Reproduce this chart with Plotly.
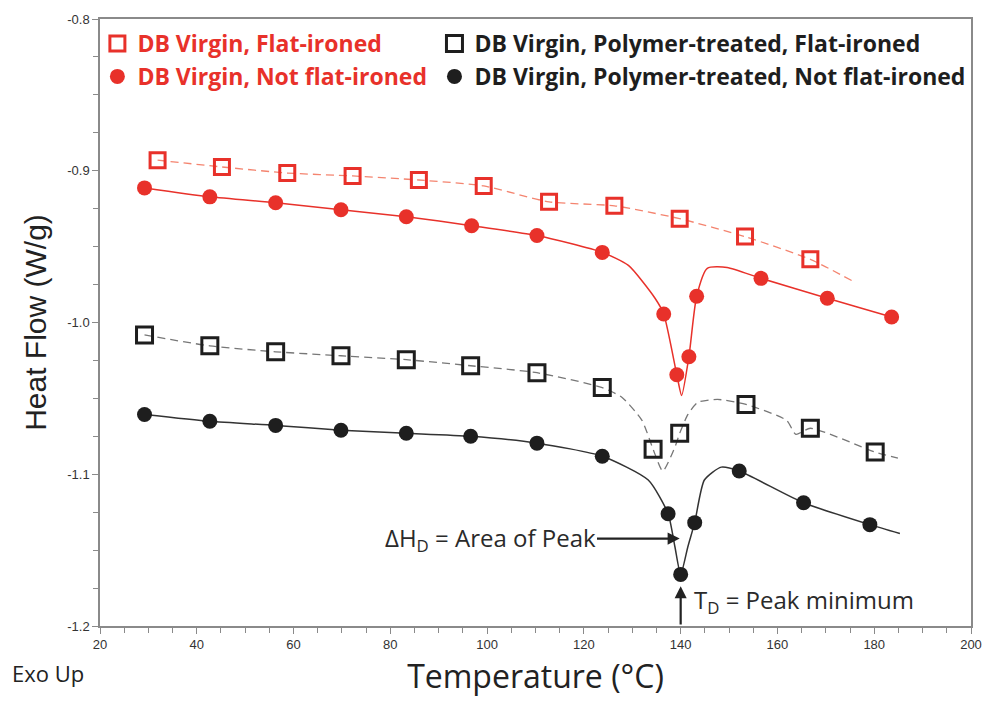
import plotly.graph_objects as go

# ---------------- data ----------------
# DB Virgin, Flat-ironed (red open squares, dashed line)
red_sq_T = [31.9, 45.2, 58.7, 72.2, 85.9, 99.3, 112.8, 126.3, 139.8, 153.3, 166.8]
red_sq_HF = [-0.8930, -0.8975, -0.9015, -0.9034, -0.9061, -0.9100, -0.9205, -0.9231, -0.9316, -0.9434, -0.9584]
red_sq_extra_T = [175.6]
red_sq_extra_HF = [-0.9728]

# DB Virgin, Not flat-ironed (red filled circles, solid line)
red_ci_T = [29.2, 42.7, 56.3, 69.8, 83.3, 96.8, 110.3, 123.8, 136.5, 139.2, 141.7, 143.3, 156.6, 170.3, 183.6]
red_ci_HF = [-0.9113, -0.9172, -0.9211, -0.9257, -0.9303, -0.9362, -0.9427, -0.9538, -0.9944, -1.0344,
             -1.0226, -0.9827, -0.9709, -0.9840, -0.9964]
red_ci_extra_T = [129.2, 134.7, 140.2, 145.5, 149.6, 184.9]
red_ci_extra_HF = [-0.9624, -0.9840, -1.0481, -0.9643, -0.9637, -0.9977]

# DB Virgin, Polymer-treated, Flat-ironed (black open squares, dashed line)
bk_sq_T = [29.2, 42.7, 56.3, 69.8, 83.3, 96.6, 110.3, 123.8, 134.3, 139.8, 153.5, 166.8, 180.2]
bk_sq_HF = [-1.0082, -1.0154, -1.0193, -1.0219, -1.0245, -1.0285, -1.0331, -1.0429, -1.0835, -1.0730,
            -1.0540, -1.0697, -1.0854]
bk_sq_extra_T = [127.9, 132.0, 136.3, 138.8, 141.5, 143.5, 147.6, 161.9, 163.8, 184.9]
bk_sq_extra_HF = [-1.0494, -1.0645, -1.0979, -1.0822, -1.0606, -1.0527, -1.0507, -1.0645, -1.0737, -1.0894]

# DB Virgin, Polymer-treated, Not flat-ironed (black filled circles, solid line)
bk_ci_T = [29.2, 42.7, 56.3, 69.8, 83.3, 96.6, 110.3, 123.8, 137.4, 140.0, 142.9, 152.1, 165.4, 179.1]
bk_ci_HF = [-1.0606, -1.0651, -1.0678, -1.0710, -1.0730, -1.0750, -1.0795, -1.0881, -1.1260, -1.1660,
            -1.1319, -1.0979, -1.1188, -1.1332]
bk_ci_extra_T = [133.3, 138.8, 141.5, 144.9, 148.4, 185.3]
bk_ci_extra_HF = [-1.1038, -1.1476, -1.1476, -1.1038, -1.0953, -1.1391]

x_tick_vals = [20, 40, 60, 80, 100, 120, 140, 160, 180, 200]
x_tick_labels = ["20", "40", "60", "80", "100", "120", "140", "160", "180", "200"]
y_tick_vals = [-0.8, -0.9, -1.0, -1.1, -1.2]
y_tick_labels = ["-0.8", "-0.9", "-1.0", "-1.1", "-1.2"]

names = ["DB Virgin, Flat-ironed", "DB Virgin, Not flat-ironed",
         "DB Virgin, Polymer-treated, Flat-ironed", "DB Virgin, Polymer-treated, Not flat-ironed"]

RED = "#e8312a"
RED_LIGHT = "#f4846f"
BLACK = "#1e1e1e"
SANS = "Open Sans, Noto Sans, Lato"


def merged(t1, h1, t2, h2):
    pts = sorted(zip(list(t1) + list(t2), list(h1) + list(h2)))
    return [p[0] for p in pts], [p[1] for p in pts]


fig = go.Figure()

# ---- curves (lines) ----
line_specs = [
    (red_sq_T, red_sq_HF, red_sq_extra_T, red_sq_extra_HF, dict(color=RED_LIGHT, width=1.3, dash="8px,5px")),
    (red_ci_T, red_ci_HF, red_ci_extra_T, red_ci_extra_HF, dict(color=RED, width=1.5)),
    (bk_sq_T, bk_sq_HF, bk_sq_extra_T, bk_sq_extra_HF, dict(color="#777777", width=1.3, dash="8px,5px")),
    (bk_ci_T, bk_ci_HF, bk_ci_extra_T, bk_ci_extra_HF, dict(color="#333333", width=1.5)),
]
for t, h, te, he, ln in line_specs:
    lx, ly = merged(t, h, te, he)
    fig.add_trace(go.Scatter(x=lx, y=ly, mode="lines", line=dict(shape="spline", smoothing=0.6, **ln),
                             showlegend=False, hoverinfo="skip"))

# ---- markers ----
fig.add_trace(go.Scatter(x=red_sq_T, y=red_sq_HF, mode="markers", name=names[0], legend="legend",
                         marker=dict(symbol="square-open", size=15, color=RED, line=dict(width=3, color=RED))))
fig.add_trace(go.Scatter(x=red_ci_T, y=red_ci_HF, mode="markers", name=names[1], legend="legend",
                         marker=dict(symbol="circle", size=15, color=RED, line=dict(width=0))))
fig.add_trace(go.Scatter(x=bk_sq_T, y=bk_sq_HF, mode="markers", name=names[2], legend="legend2",
                         marker=dict(symbol="square-open", size=16, color=BLACK, line=dict(width=3, color=BLACK))))
fig.add_trace(go.Scatter(x=bk_ci_T, y=bk_ci_HF, mode="markers", name=names[3], legend="legend2",
                         marker=dict(symbol="circle", size=15, color=BLACK, line=dict(width=0))))

axis_common = dict(showline=True, linecolor="#8a8a8a", linewidth=1.5, mirror=True,
                   ticks="outside", ticklen=6, tickwidth=1.2, tickcolor="#8a8a8a",
                   showgrid=False, zeroline=False)

fig.update_layout(
    width=994, height=701,
    margin=dict(l=100, r=15, t=19, b=71),
    paper_bgcolor="white", plot_bgcolor="white",
    xaxis=dict(range=[20, 200], tickvals=x_tick_vals, ticktext=x_tick_labels,
               tickfont=dict(family="Liberation Sans Narrow, Liberation Sans, Arial", size=13, color="#333"),
               minor=dict(dtick=5, ticks="outside", ticklen=5, tickcolor="#8a8a8a", tickwidth=1),
               title=dict(text="Temperature (°C)", standoff=14,
                          font=dict(family=SANS, size=32, color="#222")),
               **axis_common),
    yaxis=dict(range=[-1.2, -0.8], tickvals=y_tick_vals, ticktext=y_tick_labels,
               tickfont=dict(family="Liberation Sans, Arial", size=13, color="#333"),
               minor=dict(dtick=0.025, ticks="outside", ticklen=5, tickcolor="#8a8a8a", tickwidth=1),
               title=dict(text="Heat Flow (W/g)", standoff=12,
                          font=dict(family="Liberation Sans, Arial", size=30, color="#222")),
               **axis_common),
    legend=dict(x=-0.003, y=0.995, xanchor="left", yanchor="top", bgcolor="rgba(0,0,0,0)",
                font=dict(family=SANS, size=23, color=RED, weight="bold"),
                tracegroupgap=0, itemwidth=30),
    legend2=dict(x=0.384, y=0.995, xanchor="left", yanchor="top", bgcolor="rgba(0,0,0,0)",
                 font=dict(family=SANS, size=23, color=BLACK, weight="bold"),
                 tracegroupgap=0, itemwidth=30),
)

# ---- annotations ----
ann_font = dict(family=SANS, size=24, color="#2a2a2a")
fig.add_annotation(x=139.8, y=-1.1424, ax=100.6, ay=-1.1424, axref="x", ayref="y",
                   text="ΔH<sub>D</sub> = Area of Peak", font=ann_font,
                   showarrow=True, arrowhead=2, arrowsize=1.1, arrowwidth=2.2, arrowcolor="#222")
fig.add_annotation(x=140.0, y=-1.1738, ax=140.0, ay=-1.2, axref="x", ayref="y",
                   text="", showarrow=True, arrowhead=2, arrowsize=1.1, arrowwidth=2.2, arrowcolor="#222")
fig.add_annotation(x=142.3, y=-1.1836, text="T<sub>D</sub> = Peak minimum", showarrow=False,
                   xanchor="left", yanchor="middle", font=ann_font)
fig.add_annotation(xref="paper", yref="paper", x=-0.103, y=-0.077, text="Exo Up", showarrow=False,
                   xanchor="left", yanchor="middle",
                   font=dict(family=SANS, size=22, color="#222"))

fig.write_html("out.html")
